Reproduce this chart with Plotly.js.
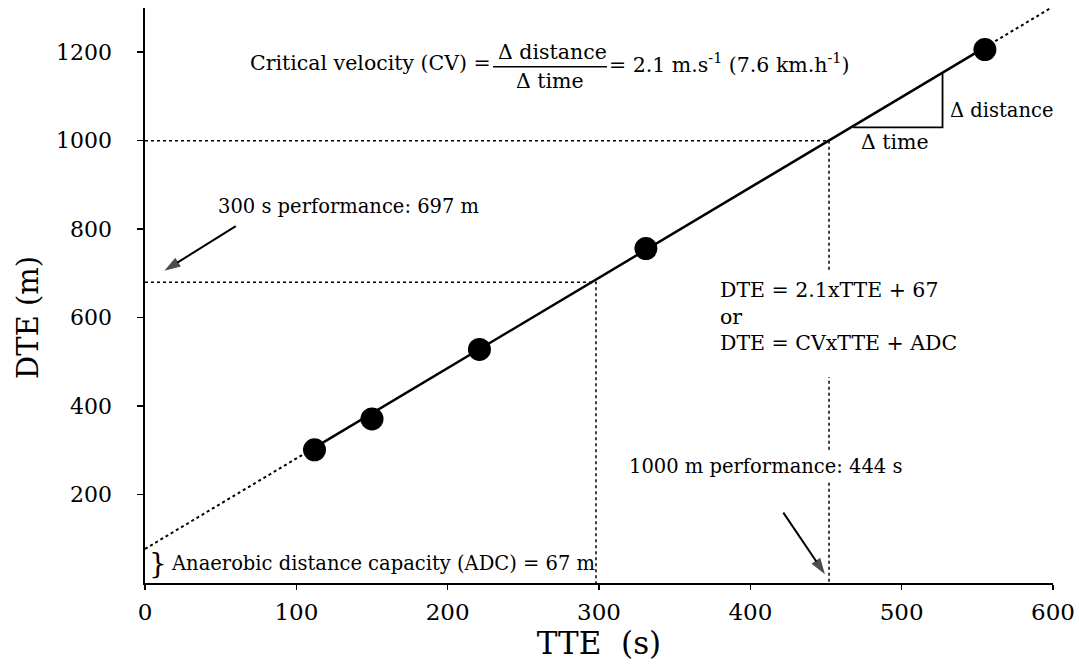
<!DOCTYPE html>
<html>
<head>
<meta charset="utf-8">
<script src="https://cdn.plot.ly/plotly-3.0.1.min.js"></script>
<style>html,body{margin:0;padding:0;background:#fff;}#chart{width:1079px;height:664px;}</style>
</head>
<body>
<div id="chart"></div>
<script>
// Observed data (time to exhaustion, distance to exhaustion)
const tte = [112, 150, 221, 331, 555];
const dte = [301, 371, 528, 756, 1206];

// Regression line (start, first point, last point, end)
const fitTTE = [0, 112, 555, 599];
const fitDTE = [77, 306, 1211, 1301];

// Performance reference lines (300 s and 1000 m)
const refTTE = [298, 452];
const refDTE = [680, 1000];

// Slope triangle (Δ time / Δ distance)
const triTTE = [468, 527, 527];
const triDTE = [1030, 1030, 1152];

// Pointer arrows (tail -> head)
const arrow300TTE = [60, 12.8];
const arrow300DTE = [807, 706];
const arrow1000TTE = [421.8, 449.3];
const arrow1000DTE = [159, 20];

const xTicks = [0, 100, 200, 300, 400, 500, 600];
const yTicks = [200, 400, 600, 800, 1000, 1200];

const FONT = 'DejaVu Serif, Liberation Serif, serif';
const black = '#000';

const arrowTrace = (xs, ys) => ({
  x: xs, y: ys, mode: 'lines+markers', hoverinfo: 'skip',
  line: {color: black, width: 2},
  marker: {color: black, symbol: ['circle', 'arrow'], size: [0, 17], angleref: 'previous', line: {width: 0}}
});

const traces = [
  {x: [fitTTE[0], fitTTE[1]], y: [fitDTE[0], fitDTE[1]], mode: 'lines',
   line: {color: black, width: 2, dash: 'dot'}, hoverinfo: 'skip'},
  {x: [fitTTE[2], fitTTE[3]], y: [fitDTE[2], fitDTE[3]], mode: 'lines',
   line: {color: black, width: 2, dash: 'dot'}, hoverinfo: 'skip'},
  {x: [fitTTE[1], fitTTE[2]], y: [fitDTE[1], fitDTE[2]], mode: 'lines',
   line: {color: black, width: 2.5}, hoverinfo: 'skip'},
  {x: [0, refTTE[1], refTTE[1]], y: [refDTE[1], refDTE[1], 0], mode: 'lines',
   line: {color: black, width: 1.5, dash: 'dot'}, hoverinfo: 'skip'},
  {x: [0, refTTE[0], refTTE[0]], y: [refDTE[0], refDTE[0], 0], mode: 'lines',
   line: {color: black, width: 1.5, dash: 'dot'}, hoverinfo: 'skip'},
  {x: triTTE, y: triDTE, mode: 'lines', line: {color: black, width: 1.8}, hoverinfo: 'skip'},
  arrowTrace(arrow300TTE, arrow300DTE),
  arrowTrace(arrow1000TTE, arrow1000DTE),
  {x: tte, y: dte, mode: 'markers', marker: {color: black, size: 23}, name: 'DTE'}
];

const af = (s) => ({family: FONT, size: s, color: black});
const S = 19.5;
const C = 20.5;

const annotations = [
  {x: 230, y: 1175, xanchor: 'right', yanchor: 'middle', text: 'Critical velocity (CV) =', showarrow: false, font: af(C)},
  {x: 269.6, y: 1201, xanchor: 'center', yanchor: 'middle', text: 'Δ distance', showarrow: false, font: af(C)},
  {x: 267.6, y: 1136, xanchor: 'center', yanchor: 'middle', text: 'Δ time', showarrow: false, font: af(C)},
  {x: 305.3, y: 1175, xanchor: 'left', yanchor: 'middle', text: '= 2.1 m.s<sup>-1</sup> (7.6 km.h<sup>-1</sup>)', showarrow: false, font: af(C)},
  {x: 530.6, y: 1069.4, xanchor: 'left', yanchor: 'middle', text: 'Δ distance', showarrow: false, font: af(S)},
  {x: 471.8, y: 997.7, xanchor: 'left', yanchor: 'middle', text: 'Δ time', showarrow: false, font: af(20.5)},
  {x: 46.9, y: 850.8, xanchor: 'left', yanchor: 'middle', text: '300 s performance: 697 m', showarrow: false, font: af(S)},
  {x: 375, y: 602, xanchor: 'left', yanchor: 'middle', align: 'left',
   text: 'DTE = 2.1xTTE + 67<br>or<br>DTE = CVxTTE + ADC', showarrow: false, font: af(20.5),
   bgcolor: '#fff', borderpad: 6},
  {x: 317.5, y: 263, xanchor: 'left', yanchor: 'middle', text: '1000 m performance: 444 s', showarrow: false, font: af(S),
   bgcolor: '#fff', borderpad: 3},
  {x: 8.3, y: 45.2, xanchor: 'center', yanchor: 'middle', text: '}', showarrow: false, font: af(28)},
  {x: 16.1, y: 44.5, xanchor: 'left', yanchor: 'middle', text: 'Anaerobic distance capacity (ADC) = 67 m', showarrow: false, font: af(S)},
  {xref: 'paper', yref: 'paper', x: -0.1289, y: 0.4626, xanchor: 'center', yanchor: 'middle', textangle: -90,
   text: 'DTE (m)', showarrow: false, font: af(29)}
];

const shapes = [
  {type: 'line', xref: 'x', yref: 'y', x0: 230, x1: 305.3, y0: 1167.3, y1: 1167.3, line: {color: black, width: 1.5}},
  {type: 'rect', layer: 'above', xref: 'x', yref: 'y', x0: 445, x1: 460, y0: 466, y1: 685, fillcolor: '#fff', line: {width: 0}},
  {type: 'rect', layer: 'above', xref: 'x', yref: 'y', x0: 445, x1: 460, y0: 233, y1: 297, fillcolor: '#fff', line: {width: 0}}
];

const layout = {
  width: 1079, height: 664,
  margin: {l: 145, r: 26, t: 8, b: 81, pad: 0},
  paper_bgcolor: '#fff', plot_bgcolor: '#fff',
  showlegend: false,
  font: {family: FONT, color: black},
  xaxis: {
    range: [0, 600], showgrid: false, zeroline: false, showline: true, linecolor: black, linewidth: 2,
    ticks: 'outside', ticklen: 5, tickwidth: 1.5, tickcolor: black,
    tickvals: xTicks, ticktext: xTicks.map(String), tickfont: {family: FONT, size: 23, color: black},
    ticklabelstandoff: 2,
    title: {text: 'TTE&nbsp;&nbsp;(s)', font: {family: FONT, size: 31, color: black}, standoff: 8}
  },
  yaxis: {
    range: [0, 1300], showgrid: false, zeroline: false, showline: true, linecolor: black, linewidth: 2.5,
    ticks: 'outside', ticklen: 6, tickwidth: 1.5, tickcolor: black,
    tickvals: yTicks, ticktext: yTicks.map(String), tickfont: {family: FONT, size: 22, color: black},
    ticklabelstandoff: 20
  },
  annotations: annotations,
  shapes: shapes
};

Plotly.newPlot('chart', traces, layout, {displayModeBar: false, staticPlot: true});
</script>
</body>
</html>
